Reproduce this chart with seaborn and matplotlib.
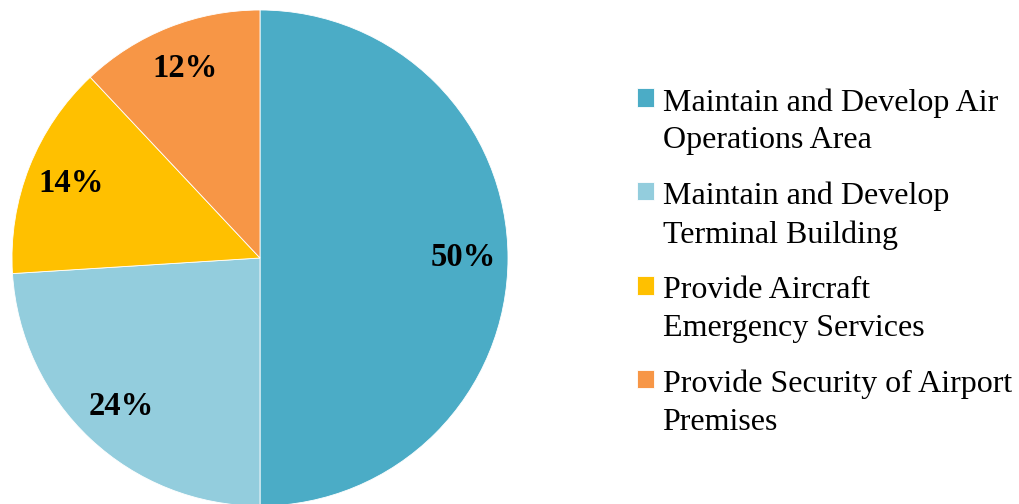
import matplotlib
matplotlib.use("Agg")
import matplotlib.pyplot as plt
import seaborn as sns

# dados do gráfico
categorias = [
    "Maintain and Develop Air\nOperations Area",
    "Maintain and Develop\nTerminal Building",
    "Provide Aircraft\nEmergency Services",
    "Provide Security of Airport\nPremises",
]
valores = [50, 24, 14, 12]
cores = ["#4BACC6", "#93CDDD", "#FFC000", "#F79646"]

sns.set_theme(style="white")
plt.rcParams["font.family"] = ["Liberation Serif", "DejaVu Serif"]
plt.rcParams["text.color"] = "black"

fig = plt.figure(figsize=(10.2, 5.04), dpi=100)
ax = fig.add_axes([12 / 1020, -2 / 504, 496 / 1020, 496 / 504])

wedges, textos, pcts = ax.pie(
    valores,
    colors=cores,
    startangle=90,
    counterclock=False,
    autopct="%1.0f%%",
    pctdistance=0.82,
    wedgeprops={"edgecolor": "white", "linewidth": 0.6},
    textprops={"fontsize": 23.5, "fontweight": "bold", "color": "black"},
)
ax.set_xlim(-1, 1)
ax.set_ylim(-1, 1)
ax.set_aspect("equal")
for w in wedges:
    w.set_clip_on(False)

leg = fig.legend(
    wedges, categorias,
    loc="upper left",
    bbox_to_anchor=(637 / 1020, 1 - 88 / 504),
    frameon=False,
    fontsize=23,
    labelcolor="black",
    borderpad=0,
    borderaxespad=0,
    handlelength=0.52,
    handleheight=0.52,
    handletextpad=0.28,
    labelspacing=0.83,
)
for t in leg.get_texts():
    t.set_linespacing(1.4)
# quadrado alinhado com a primeira linha do texto
for col in leg._legend_handle_box.get_children():
    for item in col.get_children():
        item.align = "top"

fig.savefig("out.png", dpi=100)
